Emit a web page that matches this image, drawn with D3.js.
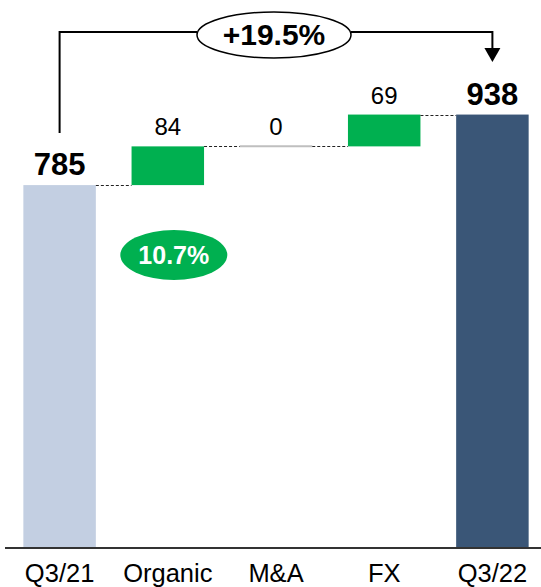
<!DOCTYPE html>
<html>
<head>
<meta charset="utf-8">
<script src="https://cdn.jsdelivr.net/npm/d3@7"></script>
<style>
  body { margin: 0; background: #fff; }
  svg { display: block; font-family: "Liberation Sans", Arial, sans-serif; }
</style>
</head>
<body>
<svg></svg>
<script>
// waterfall: Q3/21 -> Q3/22
var categories = ["Q3/21", "Organic", "M&A", "FX", "Q3/22"];
var values = [785, 84, 0, 69, 938];
var kinds = ["total", "delta", "delta", "delta", "total"];
var growthLabel = "+19.5%";
var organicLabel = "10.7%";

var width = 541, height = 587;
var svg = d3.select("svg").attr("width", width).attr("height", height);

var colors = { start: "#c3cfe2", delta: "#00b050", end: "#3a5677", zero: "#bfbfbf" };

// running totals
var data = [];
var run = 0;
categories.forEach(function (c, i) {
  var d = { cat: c, value: values[i], kind: kinds[i] };
  if (kinds[i] === "total") { d.y0 = 0; d.y1 = values[i]; run = values[i]; }
  else { d.y0 = run; d.y1 = run + values[i]; run = d.y1; }
  d.idx = i;
  data.push(d);
});

var x = d3.scaleBand()
  .domain(categories)
  .range([5.5, 546.5])
  .paddingInner(0.33)
  .paddingOuter(0.165);

var y = d3.scaleLinear()
  .domain([0, 1186.5])
  .range([547, 0]);

function fillFor(d) {
  if (d.kind === "total") return d.idx === 0 ? colors.start : colors.end;
  return colors.delta;
}

// bars
svg.selectAll("rect.bar")
  .data(data.filter(function (d) { return d.value !== 0; }))
  .enter().append("rect")
  .attr("class", "bar")
  .attr("x", function (d) { return x(d.cat); })
  .attr("width", x.bandwidth())
  .attr("y", function (d) { return y(d.y1); })
  .attr("height", function (d) { return y(d.y0) - y(d.y1); })
  .attr("fill", fillFor);

// zero change shown as thin grey line
svg.selectAll("line.zero")
  .data(data.filter(function (d) { return d.value === 0; }))
  .enter().append("line")
  .attr("x1", function (d) { return x(d.cat); })
  .attr("x2", function (d) { return x(d.cat) + x.bandwidth(); })
  .attr("y1", function (d) { return y(d.y1); })
  .attr("y2", function (d) { return y(d.y1); })
  .attr("stroke", colors.zero)
  .attr("stroke-width", 2);

// dashed connectors
svg.selectAll("line.conn")
  .data(data.slice(0, -1))
  .enter().append("line")
  .attr("x1", function (d) { return x(d.cat) + x.bandwidth(); })
  .attr("x2", function (d) { return x(categories[d.idx + 1]); })
  .attr("y1", function (d) { return Math.round(y(d.y1)) + 0.5; })
  .attr("y2", function (d) { return Math.round(y(d.y1)) + 0.5; })
  .attr("stroke", "#222")
  .attr("stroke-width", 1)
  .attr("stroke-dasharray", "3,2");

// value labels
svg.selectAll("text.val")
  .data(data)
  .enter().append("text")
  .attr("x", function (d) { return x(d.cat) + x.bandwidth() / 2; })
  .attr("y", function (d) { return y(d.y1) - (d.kind === "total" ? 10 : 11); })
  .attr("text-anchor", "middle")
  .attr("font-size", function (d) { return d.kind === "total" ? 31 : 24; })
  .attr("font-weight", function (d) { return d.kind === "total" ? "bold" : "normal"; })
  .attr("fill", "#000")
  .text(function (d) { return d.value; });

// axis
svg.append("line")
  .attr("x1", 5).attr("x2", width)
  .attr("y1", 548).attr("y2", 548)
  .attr("stroke", "#333")
  .attr("stroke-width", 2);

var axis = svg.append("g")
  .attr("transform", "translate(0,548)")
  .call(d3.axisBottom(x).tickSize(0).tickPadding(16));
axis.select(".domain").remove();
axis.selectAll("text")
  .attr("font-size", 25.5)
  .attr("font-family", "Liberation Sans, Arial, sans-serif")
  .attr("fill", "#000");

// growth bracket
var first = data[0], last = data[data.length - 1];
var xa = x(first.cat) + x.bandwidth() / 2;
var xb = x(last.cat) + x.bandwidth() / 2;
var topY = 32;
var ell = { cx: 274, cy: 35, rx: 77, ry: 23 };

svg.append("path")
  .attr("d", "M" + xa + "," + (y(first.y1) - 52) + "V" + topY + "H" + (ell.cx - ell.rx))
  .attr("fill", "none").attr("stroke", "#000").attr("stroke-width", 2);
svg.append("path")
  .attr("d", "M" + (ell.cx + ell.rx) + "," + topY + "H" + xb + "V" + 49)
  .attr("fill", "none").attr("stroke", "#000").attr("stroke-width", 2);
svg.append("path")
  .attr("d", "M" + (xb - 8) + ",48L" + (xb + 8) + ",48L" + xb + ",62Z")
  .attr("fill", "#000");

svg.append("ellipse")
  .attr("cx", ell.cx).attr("cy", ell.cy).attr("rx", ell.rx).attr("ry", ell.ry)
  .attr("fill", "#fff").attr("stroke", "#000").attr("stroke-width", 1.5);
svg.append("text")
  .attr("x", ell.cx).attr("y", ell.cy + 9.5)
  .attr("text-anchor", "middle")
  .attr("font-size", 30).attr("font-weight", "bold")
  .text(growthLabel);

// organic growth badge
var ox = x("Organic") + x.bandwidth() / 2 + 6;
svg.append("ellipse")
  .attr("cx", ox).attr("cy", 255).attr("rx", 53.5).attr("ry", 25)
  .attr("fill", colors.delta);
svg.append("text")
  .attr("x", ox).attr("y", 264)
  .attr("text-anchor", "middle")
  .attr("font-size", 25).attr("font-weight", "bold")
  .attr("fill", "#fff")
  .text(organicLabel);
</script>
</body>
</html>
